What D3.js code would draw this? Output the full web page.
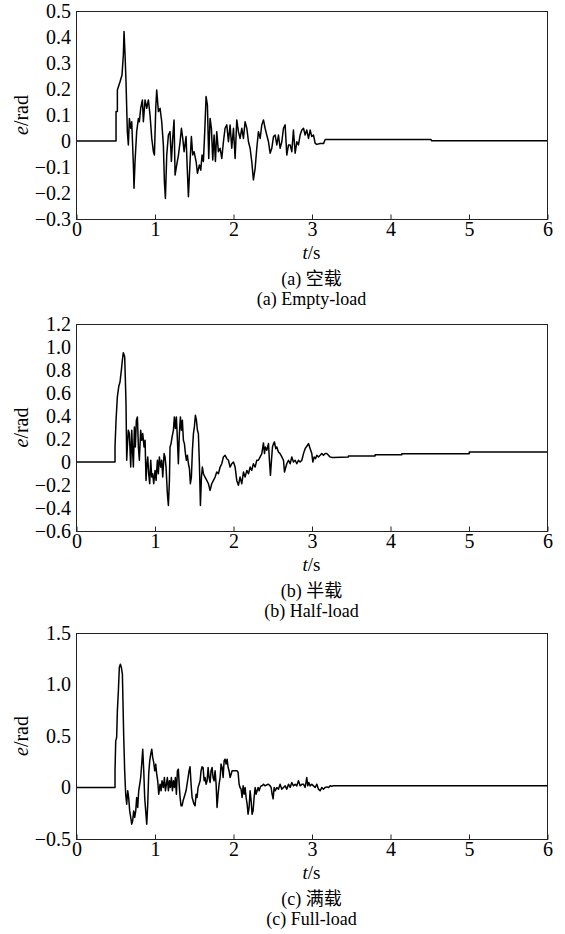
<!DOCTYPE html>
<html><head><meta charset="utf-8">
<script src="https://cdn.jsdelivr.net/npm/d3@7"></script>
<style>
body{margin:0;background:#fff;}
svg text{font-family:"Liberation Serif","Times New Roman",Times,"Noto Sans CJK SC",serif;fill:#000;}
</style></head><body>
<svg id="c" width="565" height="934"></svg>
<script>
const timeTicks=[0,1,2,3,4,5,6];
const emptyTicks=[-0.3,-0.2,-0.1,0,0.1,0.2,0.3,0.4,0.5];
const emptyTickLabels=["\u22120.3","\u22120.2","\u22120.1","0","0.1","0.2","0.3","0.4","0.5"];
const halfTicks=[-0.6,-0.4,-0.2,0,0.2,0.4,0.6,0.8,1.0,1.2];
const halfTickLabels=["\u22120.6","\u22120.4","\u22120.2","0","0.2","0.4","0.6","0.8","1.0","1.2"];
const fullTicks=[-0.5,0,0.5,1.0,1.5];
const fullTickLabels=["\u22120.5","0","0.5","1.0","1.5"];
const captionsCN=["(a) 空载","(b) 半载","(c) 满载"];
const captionsEN=["(a) Empty-load","(b) Half-load","(c) Full-load"];

const emptyLoad=[[0,0],[0.510,0],[0.510,0.113],[0.527,0.113],[0.527,0.196],[0.561,0.228],[0.586,0.254],[0.603,0.331],[0.612,0.421],[0.625,0.331],[0.637,0.228],[0.654,0.036],[0.667,-0.015],[0.680,0.087],[0.697,0.049],[0.710,0.074],[0.731,-0.092],[0.739,-0.182],[0.752,-0.079],[0.773,0.036],[0.795,0.087],[0.807,0.074],[0.824,0.126],[0.846,0.158],[0.858,0.074],[0.880,0.158],[0.901,0.126],[0.922,0.158],[0.943,0.100],[0.965,0.010],[0.986,-0.041],[0.999,-0.054],[1.016,0.126],[1.028,0.196],[1.050,0.113],[1.071,0.126],[1.092,0.074],[1.113,-0.015],[1.126,-0.156],[1.139,-0.221],[1.156,-0.054],[1.177,0.023],[1.198,0.036],[1.215,-0.079],[1.232,0.010],[1.249,0.081],[1.262,-0.131],[1.283,-0.092],[1.305,-0.054],[1.326,-0.003],[1.343,0.049],[1.360,0.010],[1.377,-0.041],[1.402,0.017],[1.419,-0.118],[1.432,-0.214],[1.453,-0.079],[1.470,0.017],[1.487,-0.054],[1.504,-0.041],[1.530,-0.079],[1.547,-0.124],[1.572,-0.092],[1.589,-0.112],[1.606,-0.054],[1.623,-0.079],[1.640,0.036],[1.657,0.171],[1.674,0.138],[1.691,-0.067],[1.708,0.087],[1.725,0.049],[1.742,-0.073],[1.759,0.023],[1.776,-0.079],[1.793,0.036],[1.814,-0.041],[1.836,-0.028],[1.857,-0.067],[1.878,-0.003],[1.899,0.049],[1.921,0.062],[1.942,-0.003],[1.963,0.062],[1.984,-0.028],[2.006,0.049],[2.027,-0.067],[2.048,0.081],[2.069,0.036],[2.090,0.010],[2.112,0.049],[2.133,0.010],[2.154,0.074],[2.176,0.049],[2.197,-0.003],[2.218,-0.028],[2.239,-0.079],[2.260,-0.150],[2.282,-0.105],[2.303,-0.028],[2.324,0.036],[2.346,0.010],[2.367,0.062],[2.388,0.081],[2.409,0.049],[2.430,0.023],[2.452,-0.003],[2.473,-0.047],[2.494,-0.028],[2.516,0.017],[2.537,0.023],[2.558,-0.015],[2.579,0.023],[2.600,-0.028],[2.622,-0.003],[2.643,0.049],[2.664,0.062],[2.685,-0.054],[2.707,-0.015],[2.728,-0.015],[2.749,-0.041],[2.770,0.042],[2.792,-0.047],[2.813,-0.003],[2.834,-0.015],[2.855,0.023],[2.877,0.042],[2.898,0.049],[2.919,0.023],[2.940,0.042],[2.962,0.010],[2.983,0.042],[3.004,0.017],[3.025,0.023],[3.047,-0.009],[3.068,-0.013],[3.110,-0.010],[3.153,-0.010],[3.174,0.006],[4.52,0.006],[4.53,0.001],[6,0.001]];

const halfLoad=[[0,0],[0.497,0],[0.497,0.131],[0.510,0.363],[0.527,0.567],[0.544,0.654],[0.561,0.698],[0.578,0.799],[0.591,0.887],[0.603,0.951],[0.620,0.916],[0.629,0.712],[0.637,0.509],[0.646,0.015],[0.654,0.131],[0.667,0.276],[0.680,0.247],[0.697,-0.044],[0.710,0.276],[0.722,0.073],[0.731,-0.044],[0.744,0.305],[0.756,0.131],[0.769,0.363],[0.782,0.392],[0.795,0.131],[0.807,0.015],[0.824,0.276],[0.837,0.189],[0.850,0.247],[0.867,0.131],[0.880,0.189],[0.892,-0.160],[0.901,-0.044],[0.914,0.044],[0.926,-0.102],[0.939,-0.189],[0.952,0.015],[0.965,-0.131],[0.977,-0.102],[0.990,-0.189],[1.007,-0.073],[1.020,-0.160],[1.037,0.015],[1.049,-0.102],[1.062,0.044],[1.079,-0.044],[1.092,0.015],[1.105,-0.131],[1.122,0.073],[1.134,0.044],[1.147,-0.044],[1.164,-0.276],[1.177,-0.378],[1.190,-0.160],[1.198,0.131],[1.211,0.160],[1.224,0.218],[1.241,0.276],[1.253,0.392],[1.266,0.291],[1.279,0.392],[1.292,0.189],[1.304,-0.015],[1.317,0.247],[1.330,0.392],[1.343,0.276],[1.355,0.363],[1.368,0.189],[1.381,0.160],[1.394,0.073],[1.406,0.015],[1.419,0.058],[1.432,-0.015],[1.445,-0.058],[1.457,-0.189],[1.470,-0.131],[1.483,0.102],[1.496,0.247],[1.508,0.305],[1.521,0.407],[1.534,0.363],[1.547,0.276],[1.559,0.247],[1.572,-0.015],[1.585,-0.378],[1.598,-0.131],[1.610,-0.044],[1.623,-0.102],[1.644,-0.131],[1.666,-0.160],[1.687,-0.189],[1.708,-0.247],[1.729,-0.189],[1.751,-0.160],[1.772,-0.131],[1.793,-0.087],[1.814,-0.102],[1.836,-0.044],[1.857,-0.015],[1.878,0.044],[1.899,0.058],[1.921,0.029],[1.942,0.015],[1.963,-0.044],[1.984,-0.015],[2.006,0],[2.027,-0.044],[2.048,-0.160],[2.069,-0.203],[2.090,-0.131],[2.112,-0.189],[2.133,-0.087],[2.154,-0.131],[2.176,-0.073],[2.197,-0.102],[2.218,-0.044],[2.239,-0.073],[2.260,-0.015],[2.282,-0.044],[2.303,0.015],[2.324,0.015],[2.346,0.044],[2.367,0.073],[2.388,0.166],[2.401,0.073],[2.413,0.131],[2.430,0.102],[2.452,0.160],[2.464,0.015],[2.477,-0.116],[2.490,0.015],[2.503,0.131],[2.516,0.160],[2.528,0.174],[2.545,0.116],[2.558,0.131],[2.579,0.087],[2.600,0.073],[2.622,0.044],[2.643,0.015],[2.656,-0.087],[2.673,-0.044],[2.685,-0.015],[2.707,0.015],[2.728,-0.015],[2.749,0.044],[2.770,0],[2.792,0.015],[2.813,-0.015],[2.834,0.015],[2.855,0],[2.877,0.015],[2.898,0.073],[2.919,0.116],[2.940,0.137],[2.962,0.160],[2.983,0.116],[3.004,0.073],[3.017,0],[3.034,0.044],[3.051,0.029],[3.068,0.058],[3.089,0.044],[3.110,0.058],[3.131,0.073],[3.153,0.058],[3.174,0.073],[3.195,0.073],[3.216,0.058],[3.238,0.044],[3.259,0.040],[3.280,0.040],[3.47,0.044],[3.47,0.052],[3.81,0.052],[3.81,0.063],[4.15,0.063],[4.15,0.072],[5.01,0.072],[5.01,0.086],[6,0.086]];

const fullLoad=[[0,0],[0.497,0],[0.497,0.162],[0.506,0.453],[0.518,0.485],[0.527,0.744],[0.540,0.939],[0.552,1.165],[0.565,1.197],[0.578,1.165],[0.591,1.100],[0.599,0.809],[0.608,0.485],[0.620,0.162],[0.633,-0.065],[0.646,-0.162],[0.659,-0.032],[0.671,-0.097],[0.684,-0.227],[0.697,-0.291],[0.710,-0.356],[0.722,-0.324],[0.735,-0.227],[0.748,-0.291],[0.761,-0.227],[0.773,-0.097],[0.786,-0.194],[0.799,-0.032],[0.812,0.032],[0.824,0.097],[0.837,0.227],[0.850,0.372],[0.863,0.162],[0.875,-0.097],[0.888,-0.227],[0.901,-0.356],[0.914,-0.162],[0.926,0.129],[0.939,0.259],[0.952,0.324],[0.965,0.372],[0.977,0.291],[0.990,0.243],[1.003,0.162],[1.016,0.227],[1.028,0.129],[1.041,0.065],[1.054,-0.065],[1.071,0.032],[1.084,-0.032],[1.096,0.065],[1.113,0],[1.126,0.097],[1.139,-0.032],[1.152,0.032],[1.164,0.097],[1.177,-0.032],[1.190,0.065],[1.202,0],[1.215,0.097],[1.228,-0.032],[1.241,0.065],[1.253,0],[1.266,0.097],[1.279,-0.065],[1.292,0.162],[1.304,0.178],[1.317,0],[1.326,-0.097],[1.338,-0.178],[1.351,-0.178],[1.364,-0.129],[1.377,-0.097],[1.389,-0.065],[1.402,-0.032],[1.415,0.032],[1.428,0.097],[1.440,0.162],[1.453,0.201],[1.466,0.032],[1.479,-0.097],[1.491,-0.129],[1.504,-0.162],[1.517,-0.178],[1.530,-0.065],[1.542,-0.097],[1.555,0],[1.568,0.032],[1.581,0.065],[1.593,0.162],[1.606,0.201],[1.619,0.194],[1.632,0.065],[1.644,0.097],[1.657,0.032],[1.670,0.065],[1.683,0.194],[1.695,0.097],[1.708,0.049],[1.721,0.162],[1.734,0.194],[1.746,0.097],[1.759,0.065],[1.772,0.162],[1.785,0.032],[1.797,-0.194],[1.810,-0.065],[1.823,0.032],[1.836,0.097],[1.848,0.227],[1.861,0.194],[1.874,0.097],[1.887,0.259],[1.899,0.275],[1.912,0.227],[1.925,0.275],[1.938,0.194],[1.950,0.162],[1.963,0.097],[1.976,0.129],[1.989,0.162],[2.001,0.162],[2.052,0.162],[2.065,0.146],[2.078,0.032],[2.090,0],[2.103,-0.016],[2.116,-0.097],[2.129,0.016],[2.142,-0.065],[2.154,0],[2.167,-0.097],[2.180,-0.162],[2.192,-0.259],[2.205,-0.194],[2.218,-0.032],[2.231,-0.129],[2.243,-0.259],[2.256,-0.227],[2.269,-0.097],[2.282,0],[2.294,-0.065],[2.307,-0.032],[2.320,0],[2.333,-0.032],[2.346,0],[2.358,0.016],[2.371,0.016],[2.388,0.032],[2.409,0.016],[2.430,0.026],[2.452,0.032],[2.473,0.016],[2.486,0],[2.498,-0.065],[2.511,-0.110],[2.524,0],[2.537,-0.032],[2.558,0],[2.579,-0.016],[2.600,0.032],[2.622,-0.016],[2.643,0],[2.664,0.016],[2.685,-0.016],[2.707,0.032],[2.728,0],[2.749,0.049],[2.770,0.016],[2.792,0.032],[2.813,0.016],[2.834,0.065],[2.855,0.016],[2.877,0.032],[2.898,0.032],[2.919,0],[2.940,0.097],[2.953,0.016],[2.966,0.049],[2.983,0.016],[3.004,0.032],[3.025,0.016],[3.047,0],[3.068,0.032],[3.089,-0.016],[3.110,-0.032],[3.131,0],[3.153,-0.016],[3.174,0],[3.195,0.006],[3.216,0],[3.238,0.016],[3.259,0.013],[3.280,0.016],[3.30,0.018],[6,0.018]];

const panels=[
 {data:emptyLoad,ticks:emptyTicks,labels:emptyTickLabels,domain:[-0.3,0.5],top:11,bottom:219},
 {data:halfLoad,ticks:halfTicks,labels:halfTickLabels,domain:[-0.6,1.2],top:324,bottom:531},
 {data:fullLoad,ticks:fullTicks,labels:fullTickLabels,domain:[-0.5,1.5],top:633,bottom:839}
];

const svg=d3.select("#c");
const x=d3.scaleLinear().domain([0,6]).range([76,547]);
const cx=(76+547)/2;
const FONT='"Liberation Serif","Times New Roman",Times,"Noto Sans CJK SC",serif';

panels.forEach((p,i)=>{
  const y=d3.scaleLinear().domain(p.domain).range([p.bottom,p.top]);
  const g=svg.append("g");
  g.append("path").datum(p.data)
    .attr("fill","none").attr("stroke","#000").attr("stroke-width",1.5)
    .attr("stroke-linejoin","round")
    .attr("d",d3.line().x(d=>x(d[0])).y(d=>y(d[1])));
  g.append("rect").attr("x",x(0)+0.5).attr("y",p.top+0.5)
    .attr("width",x(6)-x(0)).attr("height",p.bottom-p.top)
    .attr("fill","none").attr("stroke","#222").attr("stroke-width",1);
  const xa=g.append("g").attr("transform",`translate(0.5,${p.bottom+0.5})`)
    .call(d3.axisBottom(x).tickValues(timeTicks).tickFormat(d3.format("d")).tickSize(-5).tickPadding(2));
  xa.attr("font-family",FONT).attr("font-size",20);
  xa.select(".domain").remove();
  xa.selectAll("line").attr("stroke","#222");
  const ya=g.append("g").attr("transform",`translate(${x(0)},0)`)
    .call(d3.axisLeft(y).tickValues(p.ticks).tickFormat((d,k)=>p.labels[k]).tickSize(0).tickPadding(5));
  ya.attr("font-family",FONT).attr("font-size",20);
  ya.select(".domain").remove();
  const yl=g.append("text").attr("transform",`translate(28,${(p.top+p.bottom)/2}) rotate(-90)`)
    .attr("text-anchor","middle").attr("font-size",20);
  yl.append("tspan").attr("font-style","italic").text("e");
  yl.append("tspan").text("/rad");
  const xl=g.append("text").attr("x",cx).attr("y",p.bottom+40).attr("text-anchor","middle").attr("font-size",19);
  xl.append("tspan").attr("font-style","italic").text("t");
  xl.append("tspan").text("/s");
  g.append("text").attr("x",cx).attr("y",p.bottom+66).attr("text-anchor","middle").attr("font-size",18).text(captionsCN[i]);
  g.append("text").attr("x",cx).attr("y",p.bottom+86).attr("text-anchor","middle").attr("font-size",18).text(captionsEN[i]);
});
</script></body></html>
